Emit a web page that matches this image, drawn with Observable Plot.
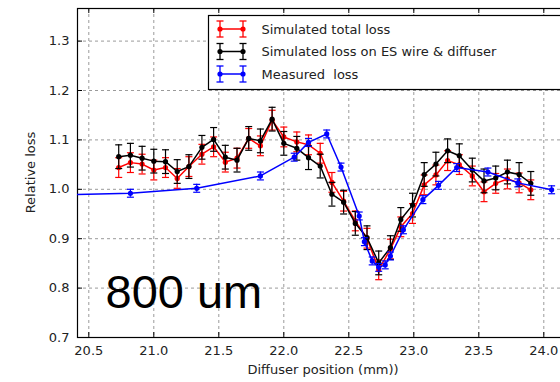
<!DOCTYPE html>
<html><head><meta charset="utf-8">
<script src="https://cdn.jsdelivr.net/npm/d3@7"></script>
<script src="https://cdn.jsdelivr.net/npm/@observablehq/plot@0.6"></script>
<style>
html,body{margin:0;padding:0;background:#fff;overflow:hidden;}
#chart{position:relative;width:560px;height:382px;overflow:hidden;}
#chart svg{max-width:none !important;}
</style>
</head><body><div id="chart"></div>
<script>
// Simulated points (same positions for both simulated series)
const simX = [20.73,20.82,20.91,21.00,21.09,21.18,21.27,21.37,21.46,21.55,21.64,21.73,21.82,21.91,22.00,22.10,22.19,22.28,22.37,22.46,22.55,22.64,22.73,22.82,22.90,22.99,23.08,23.17,23.26,23.35,23.45,23.54,23.63,23.72,23.81,23.90];
const simTotal = [1.044,1.054,1.051,1.039,1.044,1.022,1.046,1.071,1.086,1.055,1.063,1.103,1.088,1.140,1.106,1.096,1.090,1.073,1.014,0.976,0.936,0.901,0.837,0.879,0.924,0.951,1.009,1.029,1.058,1.050,1.027,0.995,1.012,1.021,1.013,0.999];
const simTotalErr = [0.02,0.02,0.02,0.02,0.02,0.02,0.02,0.02,0.02,0.02,0.02,0.02,0.02,0.02,0.02,0.02,0.02,0.02,0.02,0.02,0.02,0.02,0.02,0.02,0.02,0.02,0.02,0.02,0.02,0.02,0.02,0.02,0.02,0.02,0.02,0.02];
const simWire = [1.066,1.069,1.063,1.057,1.056,1.036,1.046,1.085,1.101,1.065,1.059,1.103,1.098,1.142,1.093,1.083,1.064,1.047,0.990,0.974,0.931,0.902,0.851,0.882,0.939,0.968,1.030,1.051,1.078,1.068,1.039,1.017,1.023,1.035,1.030,1.012];
const simWireErr = [0.024,0.024,0.024,0.024,0.024,0.024,0.024,0.024,0.024,0.024,0.024,0.024,0.024,0.024,0.024,0.024,0.024,0.024,0.024,0.024,0.024,0.024,0.024,0.024,0.024,0.024,0.024,0.024,0.024,0.024,0.024,0.024,0.024,0.024,0.024,0.024];
// Measured points
const measX = [20.30,20.82,21.33,21.82,22.08,22.19,22.33,22.44,22.58,22.62,22.68,22.73,22.78,22.82,22.92,23.07,23.19,23.33,23.57,23.80,24.06];
const measLoss = [0.989,0.992,1.002,1.027,1.065,1.095,1.112,1.045,0.946,0.894,0.855,0.842,0.847,0.865,0.918,0.979,1.008,1.044,1.035,1.013,0.999];
const measErr = [0.008,0.008,0.008,0.008,0.008,0.008,0.008,0.008,0.008,0.008,0.008,0.008,0.008,0.008,0.008,0.008,0.008,0.008,0.008,0.008,0.008];

const xTicks = [20.5,21.0,21.5,22.0,22.5,23.0,23.5,24.0];
const yTicks = [0.7,0.8,0.9,1.0,1.1,1.2,1.3];
const seriesNames = ["Simulated total loss","Simulated loss on ES wire & diffuser","Measured  loss"];
const seriesColors = ["#ff0000","#000000","#0000ff"];
const annotation = "800 um";
const xLabel = "Diffuser position (mm))";
const yLabel = "Relative loss";

const total = simX.map((x,i)=>({x, y: simTotal[i], e: simTotalErr[i]}));
const wire = simX.map((x,i)=>({x, y: simWire[i], e: simWireErr[i]}));
const meas = measX.map((x,i)=>({x, y: measLoss[i], e: measErr[i]}));

const W = 600, H = 382, ML = 77, MR = 0, MT = 8, MB = 45;
const plotW = W - ML - MR, plotH = H - MT - MB;

const cap = {draw(ctx, size){ const w = Math.sqrt(size/Math.PI); ctx.moveTo(-w,0); ctx.lineTo(w,0); }};

function series(data, color){
  return [
    Plot.ruleX(data, {x:"x", y1: d=>d.y-d.e, y2: d=>d.y+d.e, stroke: color, strokeWidth: 1.2, clip: true}),
    Plot.dot(data, {x:"x", y: d=>d.y-d.e, symbol: cap, r: 3.5, fill: "none", stroke: color, strokeWidth: 1.2, clip: true}),
    Plot.dot(data, {x:"x", y: d=>d.y+d.e, symbol: cap, r: 3.5, fill: "none", stroke: color, strokeWidth: 1.2, clip: true}),
    Plot.line(data, {x:"x", y:"y", stroke: color, strokeWidth: 1.5, clip: true}),
    Plot.dot(data, {x:"x", y:"y", fill: color, r: 2.6, clip: true})
  ];
}

const svg = Plot.plot({
  width: W, height: H,
  marginLeft: ML, marginRight: MR, marginTop: MT, marginBottom: MB,
  style: {fontFamily: "DejaVu Sans", fontSize: "13px", color: "#222", background: "white", maxWidth: "none"},
  x: {domain: [20.413, 20.413 + plotW/130], axis: null},
  y: {domain: [0.7, 0.7 + plotH/494], axis: null},
  marks: [
    Plot.gridX(xTicks, {stroke: "#9a9a9a", strokeOpacity: 1, strokeDasharray: "3,3"}),
    Plot.gridY(yTicks, {stroke: "#9a9a9a", strokeOpacity: 1, strokeDasharray: "3,3"}),
    Plot.axisX(xTicks, {tickSize: 0, tickPadding: 8, tickFormat: d=>d.toFixed(1), fontSize: 13, fill: "#222", label: null}),
    Plot.axisY(yTicks, {tickSize: 0, tickPadding: 8, tickFormat: d=>d.toFixed(1), fontSize: 13, fill: "#222", label: null}),
    Plot.tickX(xTicks, {x: d=>d, insetTop: plotH-5, stroke: "black"}),
    Plot.tickX(xTicks, {x: d=>d, insetBottom: plotH-5, stroke: "black"}),
    Plot.tickY(yTicks, {y: d=>d, insetRight: plotW-5, stroke: "black"}),
    Plot.frame({stroke: "black", strokeWidth: 1.2}),
    ...series(total, seriesColors[0]),
    ...series(wire, seriesColors[1]),
    ...series(meas, seriesColors[2]),
    Plot.text([annotation], {frameAnchor: "bottom-left", dx: 28, dy: -30, lineAnchor: "bottom", textAnchor: "start", fontSize: 47, fontFamily: "Liberation Sans", fill: "black"})
  ]
});
svg.style.maxWidth = "none";

const s = d3.select(svg);
// axis titles
s.append("text").attr("x", 323).attr("y", 374).attr("text-anchor", "middle")
  .attr("font-family", "DejaVu Sans").attr("font-size", 13).attr("fill", "#222").text(xLabel);
s.append("text").attr("transform", "translate(30,172.5) rotate(-90)").attr("text-anchor", "middle").attr("dy", "0.35em")
  .attr("font-family", "DejaVu Sans").attr("font-size", 13).attr("fill", "#222").text(yLabel);

// legend
const lg = s.append("g");
lg.append("rect").attr("x", 208.5).attr("y", 15.5).attr("width", 380).attr("height", 74)
  .attr("fill", "white").attr("stroke", "black").attr("stroke-width", 1.2);
seriesNames.forEach((name, i) => {
  const y = 29 + i*22.5, c = seriesColors[i];
  const g = lg.append("g").attr("stroke", c).attr("stroke-width", 1.3);
  g.append("line").attr("x1", 220).attr("x2", 243).attr("y1", y).attr("y2", y).attr("stroke-width", 1.5);
  [220, 243].forEach(x => {
    g.append("line").attr("x1", x).attr("x2", x).attr("y1", y-8).attr("y2", y+8);
    g.append("line").attr("x1", x-3.5).attr("x2", x+3.5).attr("y1", y-8).attr("y2", y-8);
    g.append("line").attr("x1", x-3.5).attr("x2", x+3.5).attr("y1", y+8).attr("y2", y+8);
    g.append("circle").attr("cx", x).attr("cy", y).attr("r", 2.6).attr("fill", c).attr("stroke", "none");
  });
  lg.append("text").attr("x", 261.5).attr("y", y).attr("dy", "0.35em").attr("text-anchor", "start")
    .attr("font-family", "DejaVu Sans").attr("font-size", 13).attr("fill", "#222").text(name);
});

document.getElementById("chart").appendChild(svg);
</script>
</body></html>
